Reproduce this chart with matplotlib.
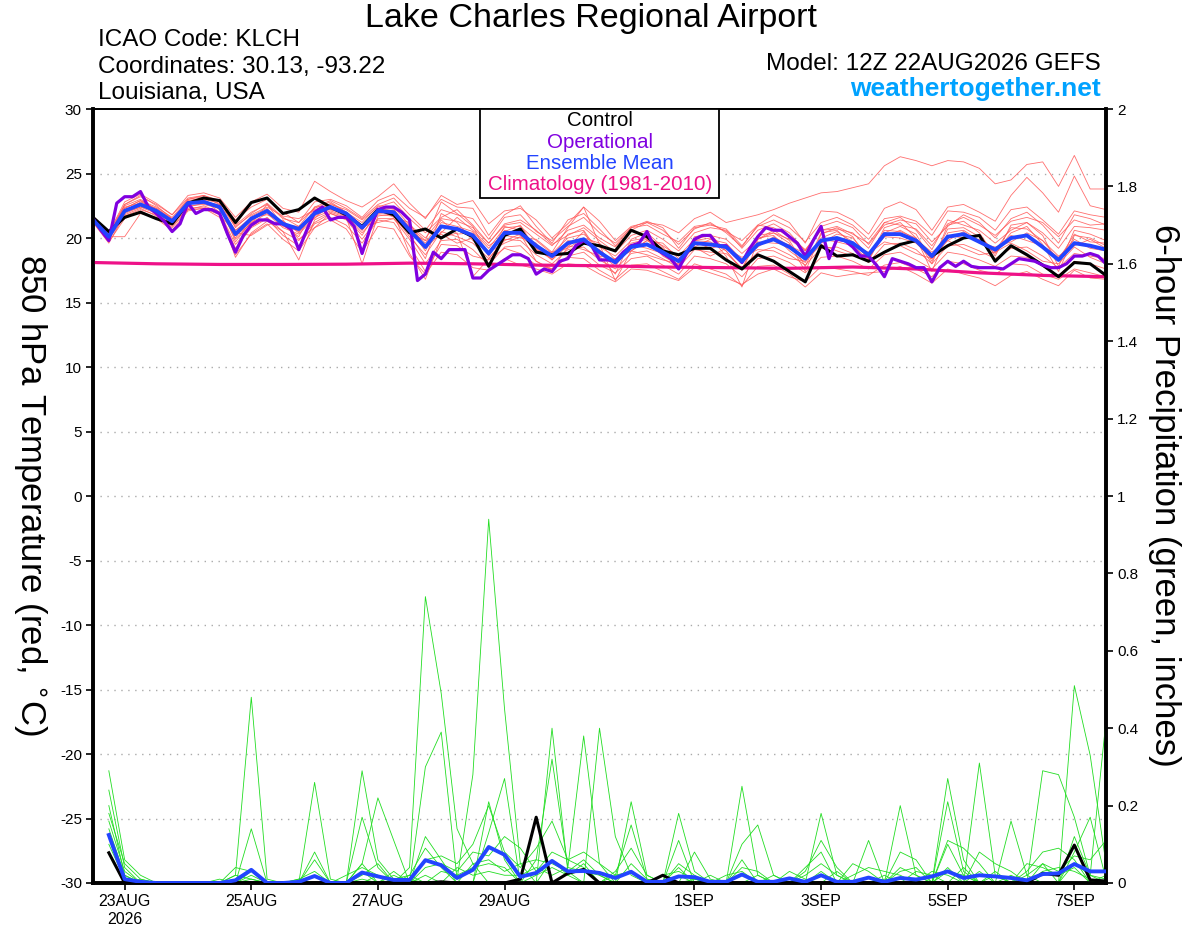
"""
GEFS plume: 850 hPa temperature and 6-hour precipitation
Lake Charles Regional Airport (KLCH), run 12Z 22AUG2026
"""

import numpy as np
import matplotlib
matplotlib.use('Agg')
from matplotlib import pyplot as plt
from matplotlib.patches import Rectangle

plt.rcParams['font.family'] = ['Liberation Sans', 'DejaVu Sans']

# time axes (6-hourly ensemble, 3-hourly operational, daily climatology)
start = np.datetime64('2026-08-22T12:00')
t6 = start + np.arange(65) * np.timedelta64(6, 'h')
t3 = start + np.arange(129) * np.timedelta64(3, 'h')
t_day = start + np.arange(17) * np.timedelta64(24, 'h')
t_pcp = t6[1:]

tick_days = ['2026-08-23', '2026-08-25', '2026-08-27', '2026-08-29',
             '2026-09-01', '2026-09-03', '2026-09-05', '2026-09-07']
tick_labels = ['23AUG\n2026', '25AUG', '27AUG', '29AUG',
               '1SEP', '3SEP', '5SEP', '7SEP']

# 850 hPa temperature (C)
control_t = [21.6, 20.5, 21.6, 22.0, 21.5, 21.1, 22.7, 23.1, 22.9, 21.2,
             22.75, 23.1, 21.9, 22.2, 23.1, 22.4, 21.8, 20.9, 22.2, 21.8,
             20.4, 20.7, 20.0, 20.7, 20.1, 17.8, 20.2, 20.7, 18.9, 18.7,
             18.8, 19.6, 19.4, 19.0, 20.6, 20.1, 19.0, 18.7, 19.2, 19.2,
             18.3, 17.6, 18.7, 18.2, 17.4, 16.6, 19.4, 18.6, 18.7, 18.2,
             18.9, 19.5, 19.8, 18.6, 19.4, 20.0, 20.2, 18.2, 19.4, 18.7,
             17.9, 17.0, 18.1, 18.0, 17.1]

mean_t = [21.4, 20.1, 22.1, 22.6, 22.1, 21.3, 22.7, 22.8, 22.4, 20.3,
          21.5, 22.1, 21.1, 20.7, 21.9, 22.4, 21.9, 20.8, 22.1, 22.0,
          20.6, 19.3, 20.9, 20.7, 20.2, 18.8, 20.4, 20.4, 19.4, 18.6,
          19.6, 19.9, 18.9, 18.1, 19.3, 19.5, 18.9, 18.2, 19.6, 19.5,
          19.3, 18.2, 19.5, 19.9, 19.3, 18.4, 19.8, 20.0, 19.6, 18.7,
          20.3, 20.3, 19.8, 18.6, 20.1, 20.3, 19.7, 19.1, 20.0, 20.2,
          19.3, 18.3, 19.6, 19.4, 19.1]

oper_t = [21.5, 20.6, 19.8, 22.7, 23.2, 23.2, 23.6, 22.4, 21.9, 21.3,
          20.5, 21.1, 22.7, 21.9, 22.2, 22.2, 21.9, 20.3, 18.9, 20.2,
          21.0, 21.4, 21.4, 21.1, 21.1, 20.7, 19.1, 20.6, 22.0, 22.4,
          21.4, 21.6, 21.6, 20.9, 18.8, 20.7, 22.2, 22.4, 22.4, 22.0,
          21.4, 16.7, 17.2, 18.9, 18.4, 19.1, 19.1, 19.1, 16.9, 16.9,
          17.5, 17.9, 18.3, 18.7, 18.7, 18.4, 17.2, 17.6, 17.4, 18.2,
          18.4, 19.4, 19.8, 19.4, 18.3, 18.3, 18.2, 18.9, 19.4, 19.6,
          20.5, 19.2, 18.8, 18.4, 17.6, 18.8, 19.9, 20.2, 20.2, 19.4,
          19.4, 18.7, 18.1, 19.2, 20.1, 20.8, 20.6, 20.6, 20.1, 19.6,
          18.6, 19.8, 20.9, 18.4, 19.9, 19.8, 19.3, 18.6, 18.6, 17.9,
          17.0, 18.4, 18.2, 18.0, 17.7, 17.7, 16.6, 17.7, 18.2, 17.8,
          18.2, 17.8, 17.7, 17.7, 17.7, 17.6, 18.0, 18.4, 18.3, 18.2,
          17.9, 17.7, 17.7, 18.0, 18.6, 18.6, 18.8, 18.6, 18.0]

clim_t = [18.1, 18.0, 17.95, 17.95, 17.97, 18.05, 18.0, 17.9, 17.85,
          17.75, 17.7, 17.65, 17.75, 17.6, 17.3, 17.1, 17.0]

members_t = [
    [21.3, 19.8, 22.3, 22.9, 22.4, 21.6, 23.0, 23.3, 22.8, 21.0,
     22.0, 22.6, 21.5, 21.2, 22.3, 22.8, 22.0, 21.2, 22.5, 22.4,
     21.0, 20.0, 21.5, 21.3, 20.8, 19.6, 21.0, 21.2, 20.3, 19.4,
     20.6, 21.0, 20.0, 19.3, 20.6, 21.2, 21.0, 20.4, 21.5, 22.0,
     21.2, 21.5, 21.8, 22.2, 22.7, 23.1, 23.5, 23.6, 23.9, 24.2,
     25.6, 26.3, 26.0, 25.6, 26.0, 25.9, 25.4, 24.2, 24.5, 25.7,
     25.9, 24.0, 26.4, 23.8, 23.8],
    [21.6, 20.3, 22.5, 23.0, 22.2, 21.0, 22.9, 23.1, 22.9, 20.8,
     21.9, 22.7, 21.6, 20.9, 22.4, 22.9, 22.3, 21.5, 22.6, 23.1,
     21.8, 20.6, 22.2, 21.8, 21.5, 19.9, 21.6, 21.8, 20.5, 19.8,
     20.9, 21.6, 20.4, 19.6, 20.8, 21.0, 20.3, 19.7, 20.9, 21.1,
     20.5, 19.8, 21.0, 21.8, 21.2, 19.6, 22.1, 22.0, 21.4, 20.3,
     22.3, 22.8, 22.2, 20.6, 22.4, 22.6, 22.0, 21.3, 23.3, 24.7,
     23.5, 22.0, 24.8, 22.5, 22.2],
    [21.2, 19.6, 21.8, 22.3, 21.7, 20.8, 22.2, 22.5, 22.0, 19.2,
     20.8, 21.5, 20.2, 19.4, 21.1, 21.6, 21.0, 19.6, 21.4, 21.2,
     19.4, 17.4, 19.5, 19.4, 18.6, 18.3, 19.2, 18.8, 17.9, 17.6,
     18.5, 18.4, 17.5, 16.8, 17.9, 18.0, 17.4, 16.8, 18.0, 17.6,
     17.2, 16.3, 17.8, 17.9, 17.2, 16.2, 17.3, 17.0, 17.2, 17.3,
     17.4, 17.8, 17.2, 16.5, 17.6, 17.2, 16.9, 16.3, 17.1, 17.4,
     16.8, 16.3, 17.5, 16.9, 16.8],
    [21.5, 20.0, 22.6, 23.3, 22.5, 21.5, 22.6, 22.9, 22.0, 18.5,
     20.4, 21.3, 20.5, 18.3, 21.4, 22.0, 21.6, 18.0, 21.7, 21.9,
     18.8, 16.8, 20.0, 20.4, 17.0, 18.4, 19.8, 20.3, 18.2, 17.6,
     19.3, 20.5, 18.6, 17.2, 19.9, 20.4, 19.3, 17.8, 20.1, 20.3,
     19.0, 17.6, 20.2, 20.4, 19.6, 17.4, 20.3, 20.8, 20.1, 18.3,
     20.8, 21.2, 20.0, 18.0, 21.0, 21.3, 20.4, 18.6, 21.0, 21.2,
     20.2, 17.8, 20.6, 20.3, 19.8],
    [21.4, 20.4, 22.8, 23.4, 22.7, 21.8, 23.3, 23.5, 23.1, 21.6,
     22.8, 23.4, 22.3, 22.0, 24.4, 23.6, 22.9, 22.4, 23.2, 24.2,
     22.7, 21.5, 23.3, 22.6, 22.9, 21.1, 22.1, 22.3, 21.4, 20.0,
     21.1, 22.4, 21.3, 19.8, 20.9, 21.2, 20.6, 19.5, 20.7, 21.2,
     20.4, 19.3, 21.0, 20.8, 20.1, 19.1, 20.6, 20.9, 20.3, 19.6,
     21.2, 21.0, 20.7, 19.4, 21.1, 21.6, 21.0, 20.2, 21.3, 21.6,
     21.2, 20.1, 21.4, 21.0, 21.1],
    [21.3, 20.0, 21.9, 22.4, 21.9, 21.0, 22.5, 22.6, 22.3, 19.9,
     21.2, 21.9, 20.8, 20.3, 21.6, 22.1, 21.7, 20.4, 21.8, 21.7,
     20.1, 18.7, 20.5, 20.1, 19.6, 18.4, 19.9, 19.8, 18.7, 18.0,
     19.1, 19.3, 18.3, 17.6, 18.8, 19.0, 18.4, 17.7, 19.1, 18.9,
     18.8, 17.7, 18.9, 19.3, 18.7, 17.9, 19.2, 19.3, 18.8, 18.1,
     19.5, 19.6, 19.1, 18.0, 19.4, 19.5, 19.0, 18.4, 19.2, 19.3,
     18.6, 17.7, 18.8, 18.6, 18.4],
    [21.6, 20.2, 22.0, 22.8, 22.3, 21.4, 23.0, 23.2, 22.6, 20.9,
     21.8, 22.4, 21.7, 21.5, 22.2, 22.6, 22.2, 21.4, 22.4, 22.8,
     21.5, 20.4, 21.6, 22.2, 21.0, 19.6, 21.1, 21.4, 20.6, 19.5,
     20.2, 20.8, 19.8, 18.9, 20.2, 20.6, 19.9, 19.0, 20.4, 20.8,
     20.6, 19.2, 20.6, 21.1, 20.4, 19.0, 20.9, 21.3, 20.8, 19.5,
     21.0, 21.4, 21.1, 19.7, 20.9, 21.8, 21.2, 20.0, 21.5, 22.0,
     21.0, 19.6, 21.8, 21.5, 21.0],
    [21.2, 20.1, 20.1, 21.9, 21.6, 21.2, 22.2, 22.3, 21.8, 20.4,
     20.2, 21.0, 21.4, 19.9, 20.8, 21.9, 21.5, 20.9, 21.2, 21.5,
     20.4, 19.8, 20.3, 19.6, 20.0, 18.9, 19.6, 20.1, 19.2, 18.3,
     19.4, 19.1, 18.6, 18.4, 19.0, 18.7, 18.3, 18.0, 19.3, 18.6,
     19.2, 18.5, 19.1, 19.0, 18.4, 18.2, 19.5, 19.0, 18.6, 18.8,
     19.7, 19.4, 18.8, 18.4, 19.8, 19.2, 18.7, 18.9, 19.6, 19.0,
     18.2, 18.0, 19.3, 18.5, 18.0],
    [21.5, 20.2, 22.4, 22.7, 22.0, 21.1, 22.6, 22.9, 22.5, 20.0,
     21.7, 22.3, 20.9, 20.6, 22.1, 22.2, 21.8, 20.6, 22.3, 22.1,
     20.9, 19.8, 22.8, 21.9, 20.9, 18.6, 20.9, 20.6, 19.0, 18.9,
     20.8, 22.4, 19.5, 16.7, 19.0, 19.8, 19.2, 17.6, 19.8, 20.0,
     18.6, 16.2, 19.9, 20.6, 19.8, 17.8, 20.4, 20.6, 19.5, 18.2,
     20.6, 20.5, 20.0, 17.4, 20.4, 20.6, 19.8, 18.8, 20.4, 20.9,
     19.5, 17.4, 20.2, 20.0, 19.4],
    [21.4, 20.0, 22.2, 22.5, 22.0, 21.4, 22.8, 23.0, 22.2, 20.6,
     21.4, 22.0, 21.2, 20.5, 21.7, 22.3, 21.8, 20.7, 22.0, 22.2,
     20.7, 19.0, 21.2, 20.9, 20.5, 19.2, 20.8, 20.9, 19.8, 18.8,
     20.0, 20.3, 19.3, 18.6, 19.8, 20.0, 19.4, 18.6, 19.9, 20.2,
     19.9, 18.8, 19.9, 20.4, 19.9, 19.0, 20.6, 20.7, 20.4, 19.2,
     21.2, 21.6, 20.6, 19.1, 21.4, 21.0, 20.6, 19.6, 20.6, 21.2,
     20.4, 19.2, 20.9, 20.8, 20.6],
    [21.2, 19.9, 21.7, 22.2, 21.8, 20.9, 22.3, 22.4, 22.0, 19.5,
     20.9, 21.6, 20.5, 19.8, 21.2, 21.9, 21.4, 19.9, 21.5, 21.5,
     19.9, 18.0, 19.8, 19.9, 19.1, 17.9, 19.3, 19.4, 18.2, 17.5,
     18.6, 18.9, 17.9, 17.3, 18.4, 18.6, 17.9, 17.2, 18.6, 18.4,
     18.0, 17.0, 18.4, 18.6, 18.1, 17.3, 18.5, 18.6, 18.2, 17.6,
     18.7, 18.9, 18.3, 17.6, 18.9, 18.7, 18.3, 17.8, 18.6, 18.5,
     17.8, 17.1, 18.2, 18.0, 17.6],
    [21.7, 20.4, 22.6, 23.2, 22.6, 21.8, 23.1, 23.3, 22.9, 21.4,
     22.4, 23.0, 22.0, 21.2, 22.8, 23.0, 22.5, 21.6, 22.9, 23.4,
     22.3, 21.6, 23.0, 22.4, 22.3, 20.2, 21.8, 22.5, 20.9, 19.6,
     21.4, 21.9, 20.7, 19.4, 20.8, 21.3, 20.8, 19.2, 20.8, 21.0,
     20.7, 19.4, 20.9, 21.4, 20.8, 19.7, 21.2, 21.6, 21.0, 19.9,
     21.5, 21.7, 21.3, 20.2, 22.1, 22.0, 21.6, 20.6, 22.2, 22.4,
     21.4, 20.3, 22.1, 21.8, 21.6],
    [21.3, 19.7, 21.5, 22.1, 21.5, 20.6, 22.1, 22.3, 21.6, 18.7,
     20.3, 21.1, 19.9, 19.0, 20.8, 21.4, 20.7, 18.9, 20.9, 20.7,
     18.6, 17.2, 18.9, 18.7, 17.7, 17.5, 18.4, 17.9, 17.6, 17.2,
     18.0, 17.9, 17.2, 16.6, 17.6, 17.5, 17.1, 16.7, 17.7, 17.3,
     16.9, 16.4, 17.2, 17.6, 17.0, 16.6, 17.8, 17.6, 17.4, 17.1,
     17.9, 18.1, 17.6, 17.0, 18.2, 18.0, 17.5, 17.2, 18.0, 17.9,
     17.2, 16.8, 17.6, 17.3, 17.0],
    [21.5, 20.3, 22.2, 22.6, 22.3, 21.5, 22.4, 22.7, 22.6, 20.2,
     21.1, 22.6, 21.0, 20.9, 21.5, 22.7, 22.0, 20.6, 22.3, 21.6,
     21.2, 19.2, 20.4, 21.6, 20.6, 19.4, 20.2, 20.0, 19.9, 18.9,
     19.2, 20.0, 19.6, 18.3, 19.0, 19.8, 19.6, 18.4, 19.3, 19.9,
     19.6, 18.3, 19.3, 20.1, 19.4, 18.8, 19.6, 20.3, 20.0, 18.6,
     20.1, 20.6, 19.9, 18.9, 19.8, 20.5, 19.6, 19.3, 19.7, 20.4,
     19.8, 18.6, 19.4, 19.9, 19.2],
    [21.4, 20.2, 22.0, 22.4, 22.2, 21.3, 22.7, 22.7, 22.3, 20.6,
     21.6, 21.8, 21.3, 20.4, 22.0, 22.2, 22.0, 21.0, 21.9, 22.0,
     20.8, 19.6, 21.4, 20.3, 20.4, 18.6, 20.6, 20.2, 19.6, 18.3,
     19.8, 19.6, 19.1, 18.0, 19.5, 19.2, 18.8, 18.3, 19.7, 19.2,
     19.5, 18.0, 19.7, 19.6, 19.5, 18.4, 19.9, 19.7, 19.4, 18.9,
     20.1, 20.0, 19.6, 18.4, 20.2, 20.0, 19.9, 18.9, 20.2, 19.8,
     19.4, 18.5, 19.9, 19.2, 19.0],
    [21.6, 19.9, 22.3, 22.9, 22.0, 21.2, 22.8, 23.0, 22.7, 19.7,
     21.3, 22.2, 21.0, 20.1, 22.4, 22.5, 21.6, 20.2, 22.2, 22.3,
     20.3, 18.4, 21.9, 21.2, 19.8, 18.9, 20.5, 21.0, 19.1, 18.4,
     20.3, 20.6, 18.8, 17.8, 19.6, 19.9, 18.6, 17.9, 19.8, 19.7,
     19.0, 17.5, 20.0, 20.2, 19.0, 18.1, 20.0, 20.5, 19.7, 18.4,
     20.4, 20.9, 20.3, 18.2, 20.7, 20.8, 20.1, 19.0, 20.8, 20.7,
     19.8, 18.3, 20.3, 19.7, 19.6],
]

# 6-hour precipitation (inches), 22AUG 18Z .. 7SEP 12Z
control_p = [.078, 0, 0, 0, 0, 0, 0, 0,
             0, 0, 0, 0, 0, 0, 0, 0,
             0, 0, 0, 0, 0, .003, 0, 0,
             0, 0, .01, .17, 0, .025, .035, 0,
             0, 0, 0, .02, 0, 0, 0, 0,
             0, 0, 0, 0, 0, 0, 0, 0,
             0, 0, 0, 0, 0, 0, 0, 0,
             0, 0, 0, .025, .02, .098, .008, .005]

mean_p = [.124, .01, .003, 0, 0, 0, 0, 0,
          .007, .034, 0, 0, .003, .018, 0, 0,
          .027, .017, .008, .008, .059, .046, .013, .034,
          .093, .073, .016, .026, .057, .03, .031, .026,
          .013, .029, .003, .003, .017, .015, .003, .003,
          .022, .003, .003, .012, .003, .02, .003, .003,
          .014, .003, .013, .009, .017, .03, .013, .02,
          .017, .013, .007, .023, .025, .049, .03, .03]

members_p = [
    [.29, .06, .02, 0, 0, 0, 0, 0,
     .02, .48, .01, 0, 0, 0, 0, 0,
     .05, 0, 0, .04, .74, .49, .14, .05,
     0, 0, 0, 0, .06, .02, 0, .40,
     .12, .02, 0, 0, 0, 0, 0, 0,
     .06, 0, 0, 0, 0, .02, 0, 0,
     0, 0, 0, 0, 0, .10, .02, 0,
     0, 0, 0, 0, 0, .51, .33, .05],
    [.24, .04, 0, 0, 0, 0, 0, .01,
     0, .14, 0, 0, 0, .26, .01, 0,
     0, .02, 0, 0, .30, .39, .01, .28,
     .94, .45, .05, 0, 0, 0, 0, 0,
     0, .21, .02, 0, 0, .01, 0, 0,
     .25, .02, 0, 0, 0, 0, 0, 0,
     0, .01, 0, 0, 0, .27, .06, 0,
     0, 0, 0, .29, .28, .17, .02, .42],
    [.20, .02, 0, 0, 0, 0, 0, 0,
     0, .03, 0, 0, .01, 0, 0, 0,
     .29, .06, .01, .02, 0, 0, 0, 0,
     .21, .06, 0, 0, .40, .03, 0, 0,
     0, 0, 0, 0, .18, .03, 0, 0,
     0, 0, 0, 0, 0, .18, .02, 0,
     0, 0, .20, .02, 0, 0, 0, .31,
     .02, 0, 0, 0, 0, .08, .17, .01],
    [.18, .05, .01, 0, 0, 0, 0, 0,
     .04, .03, 0, 0, 0, .08, 0, 0,
     .05, .22, .11, 0, .12, .06, 0, 0,
     .13, .27, 0, .06, .32, .04, .38, .05,
     0, 0, 0, 0, .11, 0, 0, 0,
     .10, .15, .02, 0, 0, 0, 0, 0,
     .11, 0, 0, 0, 0, .21, .03, 0,
     0, .16, .02, 0, 0, .12, .02, 0],
    [.16, .03, 0, 0, 0, 0, 0, 0,
     0, .01, 0, 0, 0, .06, 0, 0,
     .17, .04, 0, 0, .06, .07, .05, .10,
     .20, .08, .04, .09, .16, .06, .08, .05,
     .02, .15, .01, 0, 0, .08, .01, 0,
     0, 0, 0, 0, .03, .11, .04, 0,
     0, 0, .08, .06, 0, .11, .09, .05,
     0, 0, .03, .08, .09, .06, 0, .02],
    [.14, .02, 0, 0, 0, 0, 0, 0,
     0, 0, 0, 0, 0, 0, 0, 0,
     .03, 0, .02, 0, .04, .05, .03, .08,
     .07, .12, .09, .03, .08, .06, .04, 0,
     .03, .09, .02, 0, .05, .02, 0, 0,
     .04, .03, 0, 0, .04, .08, 0, .05,
     .03, 0, .04, .02, 0, .04, 0, .08,
     .05, .03, 0, .05, .03, .07, .06, .11],
    [.12, .01, 0, 0, 0, 0, 0, 0,
     .02, .01, 0, 0, 0, 0, 0, .02,
     .04, .02, 0, .02, .09, .04, 0, .05,
     .06, .03, .05, .06, .05, .03, .06, .02,
     0, 0, 0, .02, .03, .01, 0, 0,
     0, .02, 0, .03, .01, 0, .03, 0,
     0, .02, 0, .03, .02, 0, .04, 0,
     .03, 0, .05, .04, .02, .04, 0, 0],
    [.10, .01, 0, 0, 0, 0, 0, 0,
     0, 0, 0, 0, .01, .03, 0, 0,
     .02, .05, 0, .01, 0, .03, .02, .04,
     .05, .04, 0, .02, .04, .02, .05, 0,
     .02, .03, 0, 0, .02, 0, 0, .02,
     .03, 0, .02, 0, 0, .03, 0, .02,
     .04, .03, .02, 0, .03, .02, 0, .03,
     0, .02, 0, .03, .04, .03, .01, 0],
    [.08, 0, .01, 0, 0, 0, 0, 0,
     0, .02, 0, 0, 0, 0, 0, 0,
     .01, 0, .03, 0, .02, 0, .04, .02,
     .03, .02, .02, .04, .02, .04, .03, .02,
     0, .05, .01, 0, .04, 0, .02, 0,
     .02, 0, 0, 0, .02, .05, .02, 0,
     0, 0, .03, .04, 0, .03, .02, 0,
     .02, 0, .02, .05, 0, .05, .02, .01],
]

# colours
RED = '#ff5555'
GREEN = '#22dd22'
PURPLE = '#8000e0'
BLUE = '#2244ff'
CLIM = '#ee1188'

W, H = 1200, 927
fig = plt.figure(figsize=(W / 100, H / 100), dpi=100)
ax = fig.add_axes([93 / W, 1 - 883 / H, (1106 - 93) / W, (883 - 109) / H])
ax2 = ax.twinx()

# temperature
for m in members_t:
    ax.plot(t6[:len(m)], m, color=RED, lw=0.6, alpha=0.85, zorder=2)
ax.plot(t_day, clim_t, color=CLIM, lw=2.3, zorder=4)
ax.plot(t6, control_t, color='black', lw=2.2, zorder=5)
ax.plot(t3, oper_t, color=PURPLE, lw=2.3, zorder=6)
ax.plot(t6, mean_t, color=BLUE, lw=2.8, zorder=7)

# precipitation
for m in members_p:
    ax2.plot(t_pcp[:len(m)], m, color=GREEN, lw=0.6, zorder=2)
ax2.plot(t_pcp, control_p, color='black', lw=2.2, zorder=5)
ax2.plot(t_pcp, mean_p, color=BLUE, lw=2.8, zorder=6)

ax.set_xlim(t6[0], t6[-1])
ax.set_ylim(-30, 30)
ax2.set_ylim(0, 2)

ax.set_yticks(range(-30, 31, 5))
ax.set_yticklabels([str(v) for v in range(-30, 31, 5)])
ax2.set_yticks(np.arange(0, 2.01, 0.2))
ax2.set_yticklabels(['0', '0.2', '0.4', '0.6', '0.8', '1',
                     '1.2', '1.4', '1.6', '1.8', '2'])
ax.set_xticks([np.datetime64(d + 'T00:00') for d in tick_days])
ax.set_xticklabels(tick_labels)

for y in range(-25, 30, 5):
    ax.axhline(y, color='#aaaaaa', lw=1, ls=(0, (1, 4)), zorder=0)

ax.tick_params(axis='y', direction='out', length=5, width=1.2,
               labelsize=11, pad=3)
ax.tick_params(axis='x', direction='out', length=5, width=1.2,
               labelsize=11.5, pad=3)
ax2.tick_params(axis='y', direction='out', length=5, width=1.2,
                labelsize=11, pad=3)

for a in (ax, ax2):
    a.spines['left'].set_linewidth(2.6)
    a.spines['right'].set_linewidth(2.6)
    a.spines['bottom'].set_linewidth(2.6)
    a.spines['top'].set_linewidth(1.4)

# axis titles (both read top to bottom)
fig.text(30 / W, 1 - 495 / H, '850 hPa Temperature (red, $^{\\circ}$C)',
         rotation=270, ha='center', va='center', fontsize=25)
fig.text(1165 / W, 1 - 495 / H, '6-hour Precipitation (green, inches)',
         rotation=270, ha='center', va='center', fontsize=25)

# header
fig.text(591 / W, 1 - 18 / H, 'Lake Charles Regional Airport',
         ha='center', va='center', fontsize=24.5)
header_left = ['ICAO Code: KLCH', 'Coordinates: 30.13, -93.22',
               'Louisiana, USA']
for k, s in enumerate(header_left):
    fig.text(98 / W, 1 - (40 + 26.5 * k) / H, s,
             ha='left', va='center', fontsize=17.5)
fig.text(1101 / W, 1 - 64 / H, 'Model: 12Z 22AUG2026 GEFS',
         ha='right', va='center', fontsize=17.5)
fig.text(1101 / W, 1 - 89 / H, 'weathertogether.net',
         ha='right', va='center', fontsize=19, fontweight='bold',
         color='#00a2ff')

# legend box
fig.add_artist(Rectangle((480 / W, 1 - 198 / H), 239 / W, 89 / H,
                         transform=fig.transFigure, facecolor='white',
                         edgecolor='black', lw=1.3, zorder=10))
legend_items = [('Control', 'black'), ('Operational', PURPLE),
                ('Ensemble Mean', BLUE), ('Climatology (1981-2010)', CLIM)]
for k, (s, c) in enumerate(legend_items):
    fig.text(600 / W, 1 - (121 + 21.3 * k) / H, s, color=c,
             ha='center', va='center', fontsize=14.8, zorder=11)

fig.savefig('out.png', dpi=100)
